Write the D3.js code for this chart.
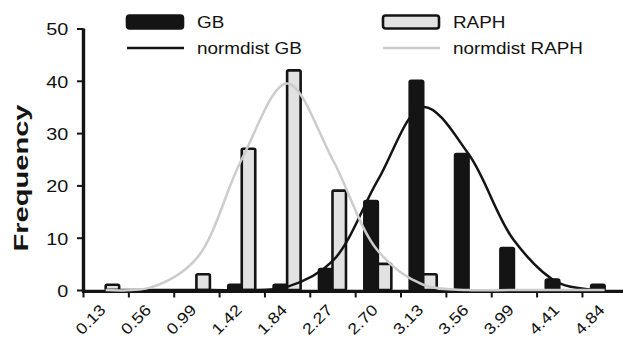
<!DOCTYPE html>
<html>
<head>
<meta charset="utf-8">
<script src="https://cdn.jsdelivr.net/npm/d3@7"></script>
<style>
  body { margin: 0; background: #fff; }
  svg { display: block; font-family: "Liberation Sans", Arial, sans-serif; }
</style>
</head>
<body>
<script>
// Klassen (Balkenbeschriftung) und Häufigkeiten
const bins = ["0.13", "0.56", "0.99", "1.42", "1.84", "2.27", "2.70", "3.13", "3.56", "3.99", "4.41", "4.84"];
const gbFreq = [0, 0, 0, 1, 1, 4, 17, 40, 26, 8, 2, 1];
const raphFreq = [1, 0, 3, 27, 42, 19, 5, 3, 0, 0, 0, 0];
const gbNorm = [0, 0, 0, 0, 0.6, 5.5, 21, 35, 26, 9.5, 1.3, 0];
const raphNorm = [0, 0.5, 6, 25, 39.5, 25, 7.5, 1, 0, 0, 0, 0];
const yTicks = [0, 10, 20, 30, 40, 50];

const width = 623, height = 339;
const dark = "#141414", light = "#e2e2e2", curveLight = "#cccccc";
const font = "'Liberation Sans', Arial, sans-serif";

const svg = d3.select("body").append("svg")
    .attr("width", width)
    .attr("height", height);

// Skalen
const x = d3.scaleBand()
    .domain(bins)
    .range([83, 83 + 12 * 45.36]);

const xSub = d3.scaleBand()
    .domain(["GB", "RAPH"])
    .range([0, x.bandwidth()])
    .paddingOuter(0.68);

const y = d3.scaleLinear()
    .domain([0, 50])
    .range([290, 28.5]);

// X-Achse (Linie + Striche an den Klassengrenzen)
svg.append("line")
    .attr("x1", 82).attr("x2", width)
    .attr("y1", 291.3).attr("y2", 291.3)
    .attr("stroke", dark).attr("stroke-width", 3.2);

svg.append("g")
    .selectAll("line")
    .data(bins)
    .join("line")
    .attr("x1", d => x(d) + 0.5).attr("x2", d => x(d) + 0.5)
    .attr("y1", 291).attr("y2", 297.5)
    .attr("stroke", dark).attr("stroke-width", 2);

const xAxis = svg.append("g")
    .attr("transform", "translate(0,290)")
    .call(d3.axisBottom(x).tickSize(0))
    .attr("font-family", font)
    .attr("font-size", 15.5);
xAxis.select(".domain").remove();
xAxis.selectAll("text")
    .attr("x", null).attr("y", null).attr("dy", null)
    .attr("text-anchor", "end")
    .attr("fill", "#111")
    .attr("transform", "translate(1,21) rotate(-45) scale(1.16,1)");

// Y-Achse
const yAxis = svg.append("g")
    .attr("transform", "translate(83.5,0)")
    .call(d3.axisLeft(y).tickValues(yTicks).tickSize(6.5).tickSizeOuter(0))
    .attr("font-family", font)
    .attr("font-size", 16);
yAxis.select(".domain")
    .attr("stroke", dark).attr("stroke-width", 3.4)
    .attr("d", `M0,${y(50)}V292.5`);
yAxis.selectAll(".tick line").attr("stroke", dark).attr("stroke-width", 2);
yAxis.selectAll(".tick text")
    .attr("fill", "#111")
    .attr("x", -12.3)
    .attr("dy", "0.4em")
    .attr("transform", "scale(1.24,1)");

// Y-Achsenbeschriftung
svg.append("text")
    .attr("transform", "translate(27.5,178) rotate(-90) scale(1.42,1)")
    .attr("text-anchor", "middle")
    .style("font-size", "20.5px")
    .style("font-weight", "bold")
    .attr("fill", dark)
    .text("Frequency");

// Balken
const series = [
    {key: "GB", values: gbFreq, fill: dark},
    {key: "RAPH", values: raphFreq, fill: light}
];

series.forEach(s => {
    svg.append("g")
        .selectAll("rect")
        .data(bins.map((b, i) => ({bin: b, value: s.values[i]})).filter(d => d.value > 0))
        .join("rect")
        .attr("x", d => x(d.bin) + xSub(s.key))
        .attr("y", d => y(d.value))
        .attr("width", xSub.bandwidth())
        .attr("height", d => y(0) - y(d.value))
        .attr("rx", 1.5)
        .attr("fill", s.fill)
        .attr("stroke", dark)
        .attr("stroke-width", 2.6);
});

// Normalverteilungskurven
const line = d3.line()
    .x((d, i) => x(bins[i]) + x.bandwidth() / 2)
    .y(d => y(d))
    .curve(d3.curveCatmullRom);

svg.append("path")
    .attr("d", line(gbNorm))
    .attr("fill", "none")
    .attr("stroke", dark)
    .attr("stroke-width", 2.5);

svg.append("path")
    .attr("d", line(raphNorm))
    .attr("fill", "none")
    .attr("stroke", curveLight)
    .attr("stroke-width", 2.5);

// Legende
const legendItems = [
    {label: "GB", type: "bar", fill: dark, x: 127, y: 22},
    {label: "normdist GB", type: "line", color: dark, x: 127, y: 48},
    {label: "RAPH", type: "bar", fill: light, x: 383, y: 22},
    {label: "normdist RAPH", type: "line", color: curveLight, x: 383, y: 48}
];

const legend = svg.append("g");
legendItems.forEach(it => {
    const g = legend.append("g").attr("transform", `translate(${it.x},${it.y})`);
    if (it.type === "bar") {
        g.append("rect")
            .attr("x", 0).attr("y", -6.5)
            .attr("width", 56).attr("height", 13)
            .attr("rx", 2.5)
            .attr("fill", it.fill)
            .attr("stroke", dark)
            .attr("stroke-width", 2.6);
    } else {
        g.append("line")
            .attr("x1", 0).attr("x2", 57)
            .attr("stroke", it.color)
            .attr("stroke-width", 2.6);
    }
    g.append("text")
        .attr("transform", "translate(70,5.5) scale(1.18,1)")
        .style("font-size", "16px")
        .attr("fill", "#111")
        .text(it.label);
});
</script>
</body>
</html>
